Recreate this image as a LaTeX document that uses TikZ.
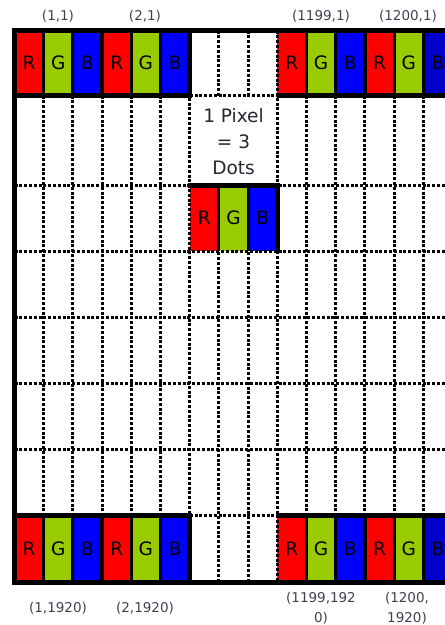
\documentclass[tikz,border=0pt]{standalone}
\usepackage{fontspec}
\setmainfont{DejaVu Sans}
\definecolor{cR}{HTML}{FF0000}
\definecolor{cG}{HTML}{99CC00}
\definecolor{cB}{HTML}{0000FF}
\definecolor{cBd}{HTML}{0000CC}
\definecolor{lab}{HTML}{404050}
\definecolor{txt}{HTML}{262630}
\tikzset{
  dotcell/.style={draw=none, inner sep=0pt, minimum width=29.2pt, minimum height=#1,
    font=\fontsize{18.5}{18.5}\selectfont, text=black},
  gridln/.style={line width=3pt, dash pattern=on 3pt off 1.8pt},
  thickln/.style={line width=5pt},
  sepln/.style={line width=3pt},
  pixsep/.style={line width=4.5pt},
  coordlab/.style={font=\fontsize{13.5}{20}\selectfont, text=lab, align=center, inner sep=0pt},
  infotext/.style={font=\fontsize{18.5}{26}\selectfont, text=txt, align=center, inner sep=0pt},
}
\begin{document}
\begin{tikzpicture}[x=1pt,y=-1pt]
\useasboundingbox (0,0) rectangle (445,625);
\clip (0,0) rectangle (445,625);
% dot cells: top and bottom rows
\foreach \k/\c/\t in {0/cR/R,1/cG/G,2/cB/B,3/cR/R,4/cG/G,5/cB/B,9/cR/R,10/cG/G,11/cB/B,12/cR/R,13/cG/G,14/cBd/B}{
  \node[dotcell=65pt, fill=\c, name=top\k] at ({14.5+29.2*(\k+0.5)},63) {\raisebox{-4pt}{\t}};
  \node[dotcell=67pt, fill=\c, name=bot\k] at ({14.5+29.2*(\k+0.5)},549) {\raisebox{-4.5pt}{\t}};
}
% middle pixel
\foreach \k/\c/\t in {6/cR/R,7/cG/G,8/cB/B}{
  \node[dotcell=66pt, fill=\c, name=mid\k] at ({14.5+29.2*(\k+0.5)},218) {\raisebox{-4pt}{\t}};
}
% dotted grid: verticals
\foreach \k in {1,2,3,4,5,10,11,12,13,14}{
  \draw[gridln] ({14.5+29.2*\k},95.5) -- ({14.5+29.2*\k},515.5);
}
\foreach \k in {6,9}{
  \draw[gridln] ({14.5+29.2*\k},30.5) -- ({14.5+29.2*\k},582.5);
}
\foreach \k in {7,8}{
  \draw[gridln] ({14.5+29.2*\k},30.5) -- ({14.5+29.2*\k},95.5);
  \draw[gridln] ({14.5+29.2*\k},185) -- ({14.5+29.2*\k},582.5);
}
% dotted grid: horizontals
\foreach \y in {185,251,317,383,449}{
  \draw[gridln] (14.5,\y) -- (450,\y);
}
\draw[gridln] (189.7,95.5) -- (277.3,95.5);
\draw[gridln] (189.7,515.5) -- (277.3,515.5);
% thick outer lines
\draw[thickln] (12,30.5) -- (450,30.5);
\draw[thickln] (14.5,28) -- (14.5,585);
\draw[thickln] (12,582.5) -- (450,582.5);
\draw[thickln] (12,95.5) -- (192,95.5);
\draw[thickln] (277.3,95.5) -- (450,95.5);
\draw[thickln] (12,515.5) -- (192,515.5);
\draw[thickln] (277.3,515.5) -- (450,515.5);
% separators in top and bottom rows
\foreach \k in {1,2,4,5,10,11,13,14}{
  \draw[sepln] ({14.5+29.2*\k},30.5) -- ({14.5+29.2*\k},95.5);
  \draw[sepln] ({14.5+29.2*\k},515.5) -- ({14.5+29.2*\k},582.5);
}
\foreach \k in {3,6,12}{
  \draw[pixsep] ({14.5+29.2*\k},30.5) -- ({14.5+29.2*\k},95.5);
  \draw[pixsep] ({14.5+29.2*\k},515.5) -- ({14.5+29.2*\k},582.5);
}
% middle pixel borders
\draw[thickln] (188.3,185) -- (279.5,185);
\draw[pixsep] (277.3,185) -- (277.3,252);
\foreach \k in {7,8}{
  \draw[sepln] ({14.5+29.2*\k},185) -- ({14.5+29.2*\k},251);
}
% text
\node[infotext] (info) at (233.5,142) {1 Pixel\\= 3\\Dots};
% coordinate labels
\node[coordlab] (l11) at (58,16.5) {(1,1)};
\node[coordlab] (l21) at (145,16.5) {(2,1)};
\node[coordlab] (l11991) at (321,16.5) {(1199,1)};
\node[coordlab] (l12001) at (408,16.5) {(1200,1)};
\node[coordlab] (l1b) at (58,608) {(1,1920)};
\node[coordlab] (l2b) at (145,608) {(2,1920)};
\node[coordlab] (l1199b) at (321,608) {(1199,192\\0)};
\node[coordlab] (l1200b) at (407,608) {(1200,\\1920)};
\end{tikzpicture}
\end{document}
